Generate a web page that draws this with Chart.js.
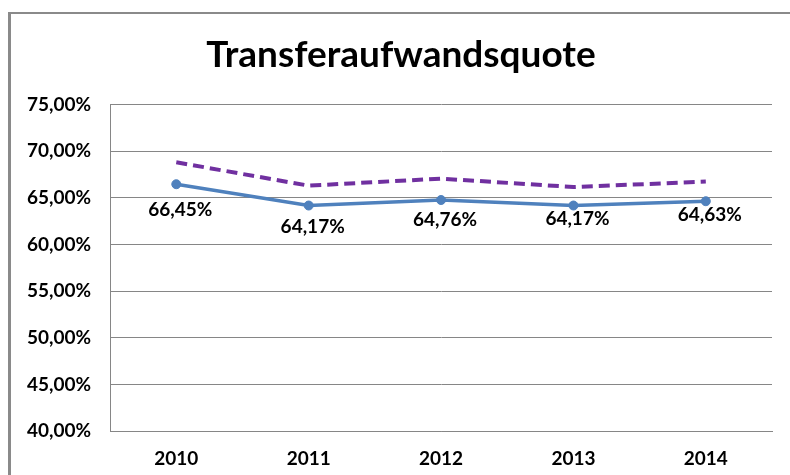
<!DOCTYPE html>
<html lang="de">
<head>
  <meta charset="UTF-8">
  <title>Transferaufwandsquote</title>
  <script src="https://cdn.jsdelivr.net/npm/chart.js"></script>
  <style>
    html, body { margin: 0; padding: 0; background: #fff; overflow: hidden; }
    #frame { position: absolute; left: 8px; top: 12px; width: 820px; height: 520px; border-left: 3px solid #8a8a8a; border-top: 2px solid #8a8a8a; }
    #wrap { position: absolute; left: 0; top: 0; width: 790px; height: 475px; }
  </style>
</head>
<body>
  <div id="frame"></div>
  <div id="wrap"><canvas id="chart" width="790" height="475"></canvas></div>

  <script>
    const years = ['2010', '2011', '2012', '2013', '2014'];
    const quote = [66.45, 64.17, 64.76, 64.17, 64.63];
    const vergleich = [68.8, 66.3, 67.05, 66.15, 66.73];
    const labelOffsets = [26, 21, 20, 13, 14];

    const FONT = 'Lato, "DejaVu Sans Condensed", sans-serif';
    const fmt = v => v.toFixed(2).replace('.', ',') + '%';

    // Datenbeschriftungen unter den Punkten
    const valueLabels = {
      id: 'valueLabels',
      afterLayout(chart) {
        // Titel etwas nach rechts, wie im Original
        const t = chart.titleBlock;
        if (t) { t.left += 11; t.right += 11; }
      },
      afterDatasetsDraw(chart) {
        const ctx = chart.ctx;
        const meta = chart.getDatasetMeta(0);
        ctx.save();
        ctx.font = 'bold 19px ' + FONT;
        ctx.fillStyle = '#000';
        ctx.textAlign = 'center';
        ctx.textBaseline = 'middle';
        meta.data.forEach((pt, i) => {
          ctx.fillText(fmt(quote[i]), pt.x + 4, pt.y + labelOffsets[i]);
        });
        ctx.restore();
      }
    };

    new Chart(document.getElementById('chart'), {
      type: 'line',
      data: {
        labels: years,
        datasets: [
          {
            label: 'Transferaufwandsquote',
            data: quote,
            borderColor: '#4F81BD',
            backgroundColor: '#4F81BD',
            borderWidth: 3.5,
            pointRadius: 4.5,
            pointBorderWidth: 1,
            pointHoverRadius: 4.5,
            tension: 0
          },
          {
            label: 'Vergleich',
            data: vergleich,
            borderColor: '#7030A0',
            borderWidth: 4,
            borderDash: [11, 6],
            pointRadius: 0,
            tension: 0
          }
        ]
      },
      options: {
        responsive: false,
        animation: false,
        layout: { padding: { left: 8, right: 18, top: 0, bottom: -11 } },
        plugins: {
          legend: { display: false },
          tooltip: { enabled: false },
          title: {
            display: true,
            text: 'Transferaufwandsquote',
            color: '#000',
            font: { family: FONT, size: 37, weight: 'bold' },
            padding: { top: 33, bottom: 27 }
          }
        },
        scales: {
          x: {
            offset: true,
            grid: { display: false, drawTicks: false },
            border: { display: true, color: '#868686', width: 1 },
            ticks: { color: '#000', font: { family: FONT, size: 19, weight: 'bold' }, padding: 16 }
          },
          y: {
            min: 40,
            max: 75,
            grid: { color: '#868686', lineWidth: 1, drawTicks: false },
            border: { display: true, color: '#868686', width: 1 },
            ticks: {
              stepSize: 5,
              color: '#000',
              font: { family: FONT, size: 19, weight: 'bold' },
              padding: 19,
              callback: v => fmt(v)
            }
          }
        }
      },
      plugins: [valueLabels]
    });
  </script>
</body>
</html>
